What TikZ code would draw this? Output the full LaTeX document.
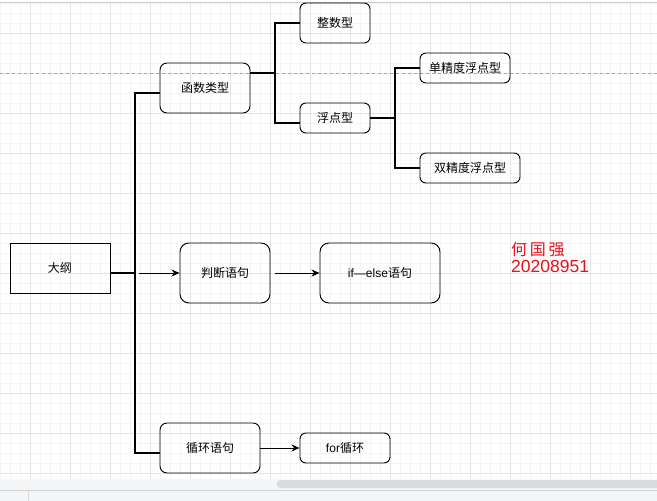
\documentclass[tikz,border=0pt]{standalone}
\usepackage{fontspec}
\setmainfont{Noto Sans CJK SC}
\newfontfamily\latinf{Liberation Sans}
\usetikzlibrary{arrows.meta}
\definecolor{gridminor}{HTML}{F4F4F4}
\definecolor{gridmajor}{HTML}{E4E4E4}
\definecolor{redtxt}{HTML}{E8101C}
\definecolor{bandbg}{HTML}{F4F5F7}
\definecolor{thumb}{HTML}{DADBDD}
\tikzset{
  box/.style={draw=black, line width=0.95pt, rounded corners=7pt, inner sep=0pt, font=\fontsize{12}{14}\selectfont},
  sqbox/.style={draw=black, line width=0.95pt, inner sep=0pt, font=\fontsize{12}{14}\selectfont},
  trunkline/.style={line width=2.5pt},
  arr/.style={line width=1pt, -{Stealth[length=8pt,width=7pt]}},
}
\begin{document}
\begin{tikzpicture}[x=1pt,y=-1pt]
\useasboundingbox (0,0) rectangle (657,501);
\fill[white] (0,0) rectangle (657,501);
% grid
\foreach \x in {0,10,...,650} \draw[gridminor, line width=0.6pt] (\x,3) -- (\x,479);
\foreach \y in {3,13,...,473} \draw[gridminor, line width=0.6pt] (0,\y) -- (657,\y);
\foreach \x in {30,70,...,650} \draw[gridmajor, line width=0.8pt] (\x,3) -- (\x,479);
\foreach \y in {33,73,...,473} \draw[gridmajor, line width=0.8pt] (0,\y) -- (657,\y);
\draw[gray!40, line width=1pt] (0,2) -- (657,2);
\draw[gray!70, dashed, dash pattern=on 3pt off 3pt, line width=0.8pt] (0,73) -- (657,73);
% bottom band
\fill[bandbg] (0,479) rectangle (657,501);
\fill[thumb, rounded corners=3.5pt] (277,480) rectangle (660,488);
\draw[gray!35, line width=0.8pt] (0,490) -- (657,490);
\draw[gray!30, line width=0.8pt] (28,490) -- (28,501);

% nodes
\node[sqbox, minimum width=100pt, minimum height=50pt] (dagang) at (60,268) {大纲};
\node[box, minimum width=90pt, minimum height=50pt] (hanshu) at (205,88) {函数类型};
\node[box, rounded corners=6pt, minimum width=70pt, minimum height=40pt] (zhengshu) at (335,23) {整数型};
\node[box, rounded corners=6pt, minimum width=70pt, minimum height=30pt] (fudian) at (335,118) {浮点型};
\node[box, rounded corners=6pt, minimum width=90pt, minimum height=30pt] (danjing) at (465,68) {单精度浮点型};
\node[box, rounded corners=6pt, minimum width=100pt, minimum height=30pt] (shuangjing) at (470,168) {双精度浮点型};
\node[box, rounded corners=9pt, minimum width=90pt, minimum height=60pt] (panduan) at (225,273) {判断语句};
\node[box, rounded corners=9pt, minimum width=120pt, minimum height=60pt] (ifelse) at (380,273) {{\latinf if—else}语句};
\node[box, minimum width=100pt, minimum height=50pt] (xunhuan) at (210,448) {循环语句};
\node[box, rounded corners=6pt, minimum width=90pt, minimum height=30pt] (forxh) at (345,448) {{\latinf for}循环};

\node[text=redtxt, anchor=north west, align=left, inner sep=0pt, font=\fontsize{16}{18}\selectfont] (name) at (511,242) {何\,国\,强\\[-1pt]{\latinf\fontsize{17.5}{18}\selectfont 20208951}};

% connectors
\coordinate (trunk) at (135,273);
\coordinate (arrstart) at (139,273);
\draw[trunkline] ([yshift=-5pt]dagang.east) -- (trunk);
\draw[trunkline] (trunk) |- ([yshift=-5pt]hanshu.west);
\draw[trunkline] (trunk) |- ([yshift=-5pt]xunhuan.west);
\draw[arr] (arrstart) -- (panduan.west);
\draw[arr] ([xshift=5pt]panduan.east) -- (ifelse.west);
\draw[arr] (xunhuan.east) -- (forxh.west);

\coordinate (b1) at (275,73);
\draw[trunkline] ([yshift=15pt]hanshu.east) -- (b1);
\draw[trunkline] (b1) |- (zhengshu.west);
\draw[trunkline] (b1) |- ([yshift=-5pt]fudian.west);

\coordinate (b2) at (395,118);
\draw[trunkline] (fudian.east) -- (b2);
\draw[trunkline] (b2) |- (danjing.west);
\draw[trunkline] (b2) |- (shuangjing.west);
\end{tikzpicture}
\end{document}
